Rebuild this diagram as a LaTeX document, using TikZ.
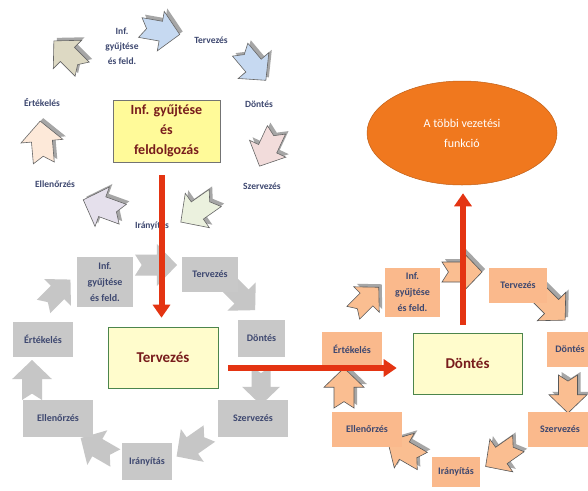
\documentclass[tikz,border=0pt]{standalone}
\usepackage{fontspec}
\setmainfont{Carlito}
\usetikzlibrary{shapes.geometric,arrows.meta}
\definecolor{redline}{RGB}{228,52,18}
\definecolor{darkred}{RGB}{120,28,28}
\definecolor{lbltxt}{RGB}{62,72,112}
\definecolor{cbeige}{RGB}{221,217,195}
\definecolor{cblue}{RGB}{198,217,241}
\definecolor{cpink}{RGB}{242,220,219}
\definecolor{cgreen}{RGB}{235,241,222}
\definecolor{clav}{RGB}{229,224,236}
\definecolor{cpeach}{RGB}{253,233,217}
\definecolor{gbox}{RGB}{200,200,200}
\definecolor{garr}{RGB}{198,198,198}
\definecolor{obox}{RGB}{250,185,140}
\definecolor{oarr}{RGB}{250,190,145}
\definecolor{ellfill}{RGB}{240,120,30}
\tikzset{
  pics/barrow/.style={code={
    \path[pic actions] (-0.5,-0.25) -- (0.02,-0.25) -- (0.02,-0.5) -- (0.5,0)
      -- (0.02,0.5) -- (0.02,0.25) -- (-0.5,0.25) -- (-0.34,0) -- cycle;}},
  shadowarr/.style={fill=black!35,draw=none},
  toparr/.style={fill=#1,draw=black!60,line width=0.6pt},
  greyarr/.style={fill=garr,draw=none},
  orarr/.style={fill=oarr,draw=black!65,line width=0.6pt},
  toplbl/.style={text=lbltxt,font=\fontsize{9.5}{15}\selectfont\bfseries,align=center},
  greybox/.style={fill=gbox,draw=none,text=lbltxt,font=\fontsize{10}{16}\selectfont\bfseries,align=center,inner sep=1pt},
  orbox/.style={fill=obox,draw=none,text=lbltxt,font=\fontsize{10}{16}\selectfont\bfseries,align=center,inner sep=1pt},
  centbox/.style={draw=black!55,line width=0.6pt,text=darkred,font=\fontsize{15}{19}\selectfont\bfseries,align=center},
  redarr/.style={draw=redline,line width=6pt,-{Triangle[length=13pt,width=17pt]}},
}
\newcommand\myarr[5]{%
  \pic[shadowarr,rotate=#3,scale=#4] at ([shift={(3,-3)}]#1,#2) {barrow};
  \pic[#5,rotate=#3,scale=#4] at (#1,#2) {barrow};}
\begin{document}
\begin{tikzpicture}[x=1pt,y=-1pt]
\useasboundingbox (0,0) rectangle (588,490);
\clip (0,0) rectangle (588,490);
\fill[white] (0,0) rectangle (588,490);

% ---------- top cycle ----------
\myarr{68}{55}{135}{40}{toparr=cbeige}
\myarr{160}{31}{-10}{40}{toparr=cblue}
\myarr{253}{65}{-50}{40}{toparr=cblue}
\myarr{268}{148}{-115}{40}{toparr=cpink}
\myarr{198}{210}{-145}{42}{toparr=cgreen}
\myarr{103}{207}{160}{42}{toparr=clav}
\myarr{42}{142}{95}{42}{toparr=cpeach}

\node[toplbl] (tinf) at (122,46) {Inf.\\gyűjtése\\és feld.};
\node[toplbl] (tterv) at (211,40) {Tervezés};
\node[toplbl] (tdont) at (259,104) {Döntés};
\node[toplbl] (tszerv) at (262,186) {Szervezés};
\node[toplbl] (tiran) at (152,226) {Irányítás};
\node[toplbl] (tell) at (55,184) {Ellenőrzés};
\node[toplbl] (tert) at (42,103) {Értékelés};

\node[centbox,fill=yellow!40!white,minimum width=107pt,minimum height=62pt,font=\fontsize{14}{20}\selectfont\bfseries] (inf) at (166.5,131) {Inf. gyűjtése\\és\\feldolgozás};

% ---------- middle cycle ----------
\pic[greyarr,rotate=0,scale=42] at (156,265) {barrow};
\pic[greyarr,rotate=-45,scale=40] at (241,296) {barrow};
\pic[greyarr,rotate=-90,scale=38] at (261,386) {barrow};
\pic[greyarr,rotate=-145,scale=40] at (193,445) {barrow};
\pic[greyarr,rotate=150,scale=40] at (98,448) {barrow};
\pic[greyarr,rotate=90,scale=40] at (32,380) {barrow};
\pic[greyarr,rotate=45,scale=38] at (57,293) {barrow};

\node[greybox,minimum width=56pt,minimum height=50pt] (ginf) at (105,282) {Inf.\\gyűjtése\\és feld.};
\node[greybox,minimum width=56pt,minimum height=35pt] (gterv) at (210,274.5) {Tervezés};
\node[greybox,minimum width=47pt,minimum height=37pt] (gdont) at (261.5,338.5) {Döntés};
\node[greybox,minimum width=70pt,minimum height=37pt] (gszerv) at (253,418.5) {Szervezés};
\node[greybox,minimum width=50pt,minimum height=37pt] (giran) at (147,461.5) {Irányítás};
\node[greybox,minimum width=70pt,minimum height=37pt] (gell) at (58,418.5) {Ellenőrzés};
\node[greybox,minimum width=60pt,minimum height=35pt] (gert) at (43,339.5) {Értékelés};

\node[centbox,fill=yellow!20!white,draw=black!45!green!40!gray,minimum width=110pt,minimum height=61pt] (terv) at (163,357.5) {Tervezés};

% ---------- right cycle ----------
\myarr{462}{272}{0}{40}{orarr}
\myarr{551}{306}{-45}{40}{orarr}
\myarr{568}{394}{-90}{38}{orarr}
\myarr{502}{455}{-145}{40}{orarr}
\myarr{405}{451}{150}{40}{orarr}
\myarr{344}{388}{90}{40}{orarr}
\myarr{366}{300}{45}{36}{orarr}

\node[orbox,minimum width=55pt,minimum height=49pt] (oinf) at (412.5,292.5) {Inf.\\gyűjtése\\és feld.};
\node[orbox,minimum width=58pt,minimum height=35pt] (oterv) at (518,285.5) {Tervezés};
\node[orbox,minimum width=46pt,minimum height=35pt] (odont) at (570,349.5) {Döntés};
\node[orbox,minimum width=64pt,minimum height=35pt] (oszerv) at (560,429.5) {Szervezés};
\node[orbox,minimum width=48pt,minimum height=30pt] (oiran) at (456,472) {Irányítás};
\node[orbox,minimum width=70pt,minimum height=35pt] (oell) at (367,429.5) {Ellenőrzés};
\node[orbox,minimum width=60pt,minimum height=35pt] (oert) at (352,349.5) {Értékelés};

\node[centbox,fill=yellow!20!white,draw=black!45!green!40!gray,minimum width=109pt,minimum height=61pt] (dont) at (467.5,363.5) {Döntés};

% ---------- ellipse ----------
\node[ellipse,fill=ellfill,draw=ellfill!80!black,line width=0.5pt,minimum width=190pt,minimum height=104pt,text=white,align=center,font=\fontsize{12}{20}\selectfont] (ell) at (462,133) {A többi vezetési\\funkció};

% ---------- red arrows ----------
\draw[redarr,shorten <=13pt,shorten >=9pt] ([xshift=-5pt]inf.south) -- ([xshift=-5pt]inf.south |- terv.north);
\draw[redarr,shorten <=10pt,shorten >=16pt] ([yshift=-10.5pt]terv.east) -- ([yshift=-10.5pt]terv.east -| dont.west);
\draw[redarr,shorten <=8pt,shorten >=8pt] ([xshift=-4.5pt]dont.north) -- ([xshift=-4.5pt]dont.north |- ell.south);
\end{tikzpicture}
\end{document}
